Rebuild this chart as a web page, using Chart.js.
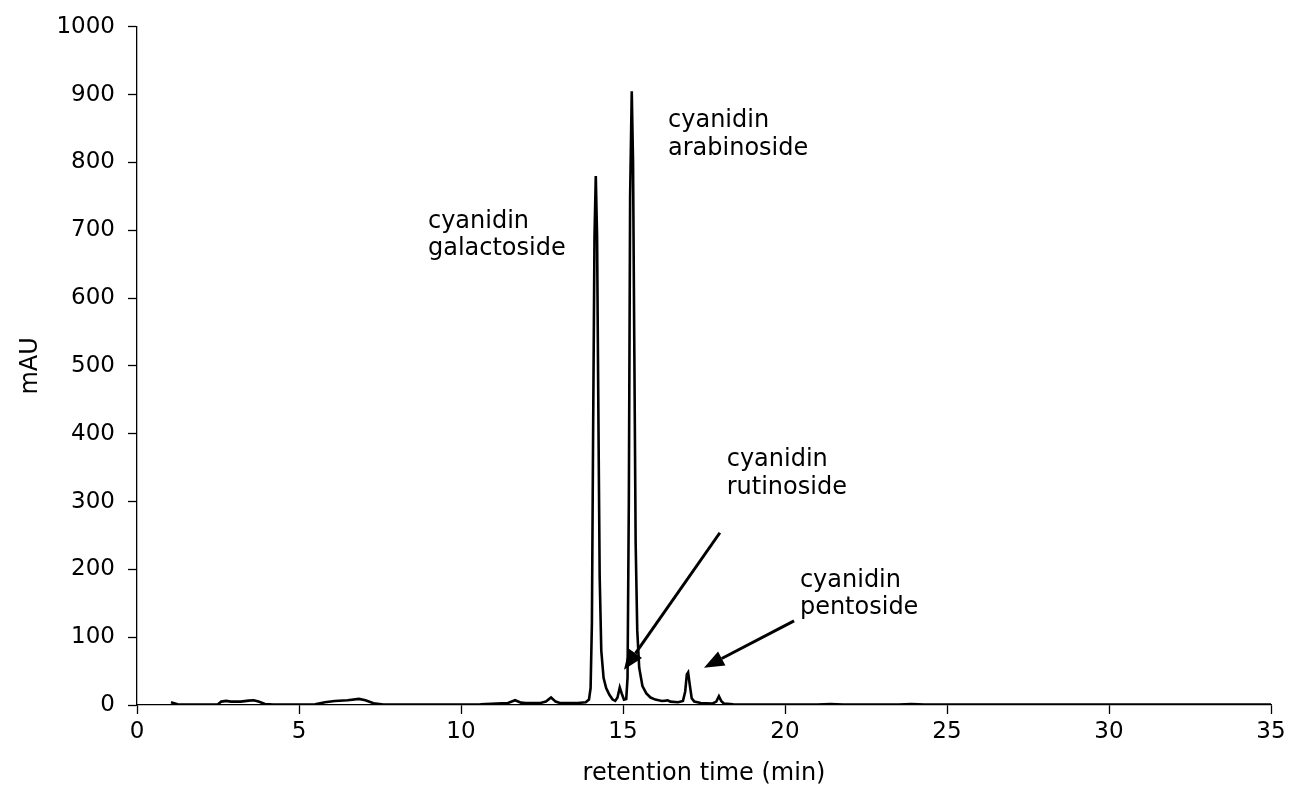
<!DOCTYPE html>
<html>
<head>
<meta charset="utf-8">
<script src="https://cdn.jsdelivr.net/npm/chart.js@4.4.0/dist/chart.umd.min.js"></script>
<style>
  html, body { margin: 0; padding: 0; background: #fff; }
  #wrap { width: 1294px; height: 794px; }
</style>
</head>
<body>
<div id="wrap"><canvas id="chrom"></canvas></div>
<script>
// retention time (min) and absorbance (mAU)
const times = [
  1.05, 1.12, 1.25, 1.6, 2.2, 2.5, 2.6, 2.75, 2.9, 3.2, 3.45, 3.6, 3.75, 3.95, 4.2,
  5.0, 5.5, 5.8, 6.1, 6.5, 6.85, 7.05, 7.3, 7.6, 8.0, 10.0, 10.6, 11.1, 11.45, 11.67,
  11.85, 12.0, 12.45, 12.62, 12.78, 12.92, 13.05, 13.6, 13.85, 13.95,
  14.0, 14.04, 14.08, 14.12, 14.16, 14.2, 14.24, 14.28, 14.33, 14.4, 14.48, 14.58,
  14.68, 14.76, 14.83, 14.9, 14.96, 15.03, 15.1,
  15.14, 15.18, 15.22, 15.27, 15.31, 15.35, 15.39, 15.44, 15.5, 15.6, 15.72, 15.85,
  16.0, 16.2, 16.32, 16.38, 16.46, 16.7, 16.85, 16.92, 16.97, 17.01, 17.06, 17.12,
  17.2, 17.4, 17.75, 17.88, 17.96, 18.03, 18.12, 18.4, 19.0,
  21.0, 21.4, 21.8, 23.5, 23.9, 24.3, 27.0, 30.0, 32.0, 35.0
]
const absorbance = [
  4, 3, 1, 0.5, 0.5, 1, 5, 6, 5, 5, 6.5, 7, 5, 1.5, 0.5,
  0.5, 1, 4, 6, 7, 9, 7, 2.5, 0.8, 0.5, 0.5, 1, 2, 3, 7,
  3.5, 3, 3, 5, 11, 5, 3, 3, 4, 8,
  25, 120, 420, 690, 780, 690, 430, 190, 80, 40, 25, 15,
  8, 6, 11, 26, 17, 8, 9,
  40, 300, 750, 905, 800, 520, 240, 110, 55, 28, 17, 11,
  8, 6, 6.5, 7, 5, 4, 6, 20, 45, 48, 30, 10,
  5, 3, 2, 5, 13, 6, 2, 1, 0.5,
  0.5, 1.5, 0.5, 0.5, 1.5, 0.5, 0.8, 0.8, 0.5, 0.5
]

const xTicks = [0, 5, 10, 15, 20, 25, 30, 35]
const yTicks = [0, 100, 200, 300, 400, 500, 600, 700, 800, 900, 1000]

// peak labels: x (min), baselines of the two lines (mAU)
const peakLabels = [
  { x: 8.98, y1: 704, y2: 663, lines: ["cyanidin", "galactoside"] },
  { x: 16.39, y1: 852, y2: 811, lines: ["cyanidin", "arabinoside"] },
  { x: 18.2, y1: 352, y2: 311, lines: ["cyanidin", "rutinoside"] },
  { x: 20.46, y1: 174, y2: 134, lines: ["cyanidin", "pentoside"] }
]

// arrows: tail -> head, in data units
const arrows = [
  { from: [17.99, 254], to: [15.03, 52] },
  { from: [20.28, 124], to: [17.5, 55] }
]

const FONT = "'DejaVu Sans', 'Liberation Sans', Arial, sans-serif"

const annotate = {
  id: "annotate",
  afterDatasetsDraw(chart) {
    const { ctx, scales } = chart
    const xs = scales.x
    const ys = scales.y
    ctx.save()
    ctx.fillStyle = "#000"
    ctx.font = "24px " + FONT
    ctx.textBaseline = "alphabetic"
    ctx.textAlign = "left"
    peakLabels.forEach((lab) => {
      const px = xs.getPixelForValue(lab.x)
      ctx.fillText(lab.lines[0], px, ys.getPixelForValue(lab.y1))
      ctx.fillText(lab.lines[1], px, ys.getPixelForValue(lab.y2))
    })

    ctx.strokeStyle = "#000"
    ctx.lineWidth = 3
    arrows.forEach((a) => {
      const x0 = xs.getPixelForValue(a.from[0])
      const y0 = ys.getPixelForValue(a.from[1])
      const x1 = xs.getPixelForValue(a.to[0])
      const y1 = ys.getPixelForValue(a.to[1])
      const ang = Math.atan2(y1 - y0, x1 - x0)
      const headLen = 20
      const headW = 8
      const bx = x1 - headLen * Math.cos(ang)
      const by = y1 - headLen * Math.sin(ang)
      ctx.beginPath()
      ctx.moveTo(x0, y0)
      ctx.lineTo(bx, by)
      ctx.stroke()
      ctx.beginPath()
      ctx.moveTo(x1, y1)
      ctx.lineTo(bx + headW * Math.sin(ang), by - headW * Math.cos(ang))
      ctx.lineTo(bx - headW * Math.sin(ang), by + headW * Math.cos(ang))
      ctx.closePath()
      ctx.fill()
    })
    ctx.restore()
  }
}

const ctx = document.getElementById("chrom").getContext("2d")

new Chart(ctx, {
  type: "line",
  data: {
    datasets: [
      {
        data: times.map((t, i) => ({ x: t, y: absorbance[i] })),
        borderColor: "#000",
        borderWidth: 2.6,
        pointRadius: 0,
        tension: 0,
        fill: false
      }
    ]
  },
  options: {
    responsive: true,
    maintainAspectRatio: false,
    animation: false,
    layout: { padding: { top: 26, right: 23, left: 0, bottom: 0 } },
    plugins: {
      legend: { display: false },
      tooltip: { enabled: false }
    },
    scales: {
      x: {
        type: "linear",
        min: 0,
        max: 35,
        afterBuildTicks: (axis) => {
          axis.ticks = xTicks.map((v) => ({ value: v }))
        },
        afterFit: (axis) => {
          axis.height = 89
        },
        grid: {
          drawOnChartArea: false,
          drawTicks: true,
          tickLength: 9,
          tickColor: "#000",
          tickWidth: 1.3
        },
        border: { display: true, color: "#000", width: 1.3 },
        ticks: {
          color: "#000",
          padding: 4,
          maxRotation: 0,
          callback: (v) => String(v),
          font: { family: FONT, size: 23 }
        },
        title: {
          display: true,
          text: "retention time (min)",
          color: "#000",
          font: { family: FONT, size: 24 },
          padding: { top: 0, bottom: 6 }
        }
      },
      y: {
        type: "linear",
        min: 0,
        max: 1000,
        afterBuildTicks: (axis) => {
          axis.ticks = yTicks.map((v) => ({ value: v }))
        },
        afterFit: (axis) => {
          axis.width = 137
        },
        grid: {
          drawOnChartArea: false,
          drawTicks: true,
          tickLength: 9,
          tickColor: "#000",
          tickWidth: 1.3
        },
        border: { display: true, color: "#000", width: 1.3 },
        ticks: {
          color: "#000",
          padding: 13,
          callback: (v) => String(v),
          font: { family: FONT, size: 23 }
        },
        title: {
          display: true,
          text: "mAU",
          color: "#000",
          font: { family: FONT, size: 24 },
          padding: { top: 16, bottom: 0 }
        }
      }
    }
  },
  plugins: [annotate]
})
</script>
</body>
</html>
